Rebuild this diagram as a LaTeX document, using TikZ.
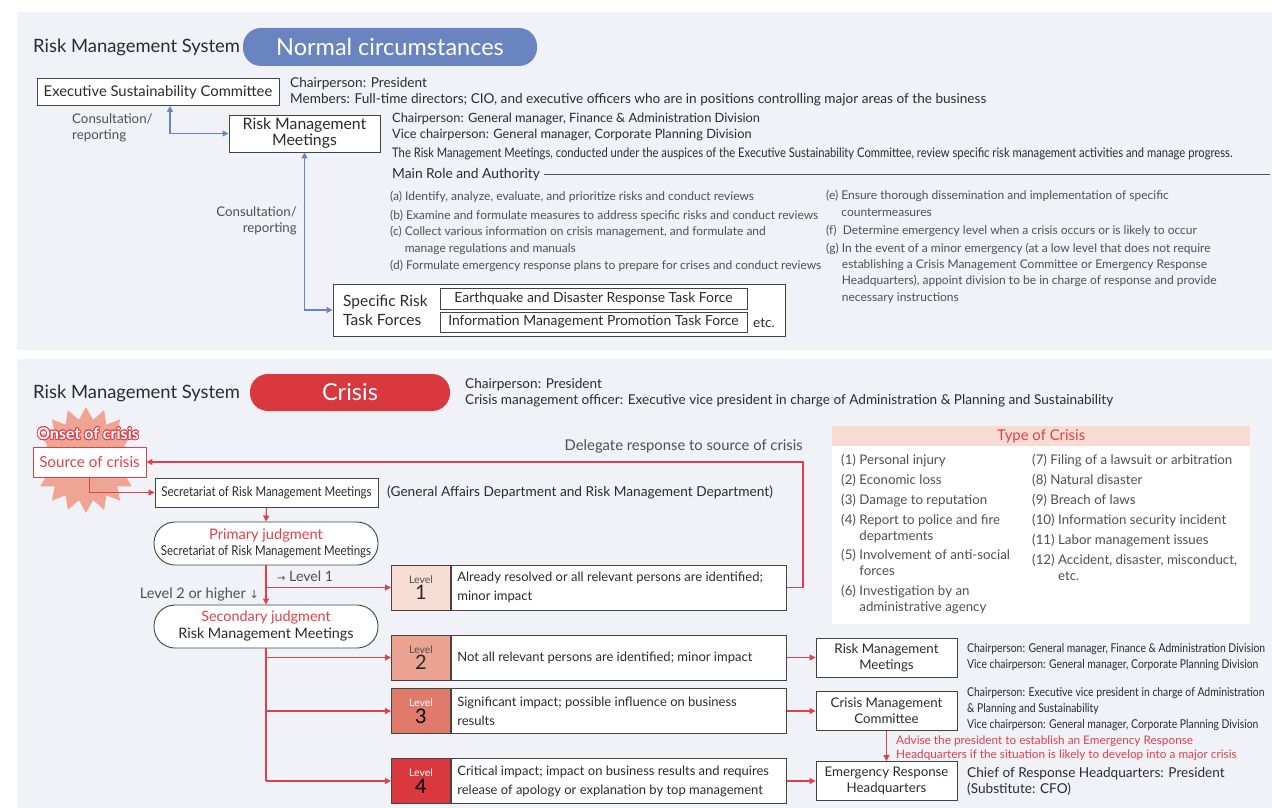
\documentclass[tikz,border=0pt]{standalone}
\usepackage{fontspec}
\setmainfont{Lato}
\newfontfamily\condfont{Lato}[FakeStretch=0.85]
\newfontfamily\symfont{DejaVu Sans}
\usepackage{xcolor}
\usepackage{tikz}
\usetikzlibrary{shapes.geometric,arrows.meta,positioning}
\usepackage{contour}
\contourlength{0.9pt}

\definecolor{panelbg}{HTML}{F1F2F8}
\definecolor{normalblue}{HTML}{6A84BF}
\definecolor{crisisred}{HTML}{D9383E}
\definecolor{linered}{HTML}{E0404A}
\definecolor{ink}{HTML}{2B2B2B}
\definecolor{grey}{HTML}{505050}
\definecolor{boxline}{HTML}{444444}
\definecolor{lvlone}{HTML}{F8DDD5}
\definecolor{lvltwo}{HTML}{EBA392}
\definecolor{lvlthree}{HTML}{E07B6C}
\definecolor{lvlfour}{HTML}{D9383E}
\definecolor{burst}{HTML}{EFA594}
\definecolor{typehead}{HTML}{F8DBD3}

\tikzset{
	box/.style={draw=boxline, fill=white, line width=0.9pt, align=center, inner sep=0pt, text=ink},
	roundbox/.style={box, rounded corners=21pt},
	pill/.style={rounded corners=18pt, text=white, inner sep=0pt, font=\fontsize{23.5}{26}\selectfont},
	head/.style={text=ink, inner sep=0pt, font=\fontsize{18.4}{20}\selectfont},
	txt/.style={text=ink, inner sep=0pt, align=left, font=\fontsize{13.6}{16}\selectfont},
	item/.style={text=grey, inner sep=0pt, align=left, font=\fontsize{12}{16.3}\selectfont},
	note/.style={text=ink, inner sep=0pt, align=left, font=\condfont\fontsize{12.2}{16}\selectfont},
	blueline/.style={draw=normalblue, line width=1.2pt, {Triangle[length=6pt,width=6pt]}-{Triangle[length=6pt,width=6pt]}},
	redline/.style={draw=linered, line width=1.2pt},
	redarrow/.style={redline, -{Triangle[length=6pt,width=6pt]}},
	tag/.style={draw=boxline, line width=0.9pt, minimum width=59pt, minimum height=45pt, inner sep=0pt, align=center},
	desc/.style={draw=boxline, fill=white, line width=0.9pt, minimum height=45pt, text width=323pt, inner xsep=6pt, inner ysep=0pt, align=flush left, text=ink, font=\fontsize{13}{19}\selectfont}
}

\begin{document}
\begin{tikzpicture}[x=1pt,y=-1pt]
	% Fondo y paneles
	\useasboundingbox (0,0) rectangle (1272,808);
	\fill[white] (0,0) rectangle (1272,808);
	\fill[panelbg] (17,12) rectangle (1272,350);
	\fill[panelbg] (17,359) rectangle (1272,808);

	% Situacion normal
	\node[head, anchor=west] (sysA) at (33,47) {Risk Management System};
	\node[pill, fill=normalblue, minimum width=294pt, minimum height=38pt] (normal) at (390,47) {Normal circumstances};

	\node[box, minimum width=242pt, minimum height=27pt, font=\fontsize{14.8}{17}\selectfont] (esc) at (158,92) {Executive Sustainability Committee};
	\node[txt, anchor=base west] (escinfo) at (290,103) {Chairperson: President\\Members: Full-time directors; CIO, and executive officers who are in positions controlling major areas of the business};
	\node[item, anchor=base west, font=\fontsize{13.3}{16}\selectfont] (consA) at (72,139) {Consultation/\\reporting};

	\node[box, minimum width=151pt, minimum height=37pt, font=\fontsize{15.8}{16}\selectfont] (rmm) at (304.5,133.5) {Risk Management\\Meetings};
	\node[txt, anchor=base west, font=\fontsize{12.8}{16}\selectfont] (rmminfo) at (392,138) {Chairperson: General manager, Finance \& Administration Division\\Vice chairperson: General manager, Corporate Planning Division};
	\node[note, anchor=base west, font=\condfont\fontsize{13.2}{14}\selectfont] (rmmnote) at (392,157) {The Risk Management Meetings, conducted under the auspices of the Executive Sustainability Committee, review specific risk management activities and manage progress.};

	\node[txt, anchor=base west, font=\fontsize{13.8}{16}\selectfont] (mra) at (392,178) {Main Role and Authority};
	\coordinate (mraend) at (1270,174);
	\draw[grey, line width=0.8pt] ([xshift=4pt]mra.east) -- (mra.east -| mraend);

	% Funciones (a)-(g)
	\node[item, anchor=base west] (ra) at (390,200) {(a) Identify, analyze, evaluate, and prioritize risks and conduct reviews};
	\node[item, anchor=base west] (rb) at (390,219) {(b) Examine and formulate measures to address specific risks and conduct reviews};
	\node[item, anchor=base west] (rc) at (390,252) {(c) Collect various information on crisis management, and formulate and\\\phantom{(c) }manage regulations and manuals};
	\node[item, anchor=base west] (rd) at (390,269) {(d) Formulate emergency response plans to prepare for crises and conduct reviews};
	\node[item, anchor=base west] (re) at (826,216) {(e) Ensure thorough dissemination and implementation of specific\\\phantom{(e) }countermeasures};
	\node[item, anchor=base west] (rf) at (826,234) {(f)\ \ Determine emergency level when a crisis occurs or is likely to occur};
	\node[item, anchor=base west] (rg) at (826,301) {(g) In the event of a minor emergency (at a low level that does not require\\\phantom{(g) }establishing a Crisis Management Committee or Emergency Response\\\phantom{(g) }Headquarters), appoint division to be in charge of response and provide\\\phantom{(g) }necessary instructions};

	% Task forces
	\node[box, minimum width=452pt, minimum height=52pt] (srtf) at (559,310) {};
	\node[txt, anchor=west, font=\fontsize{15.5}{19}\selectfont] (srtfl) at (343,310.5) {Specific Risk\\Task Forces};
	\node[box, minimum width=307pt, minimum height=21pt, font=\fontsize{13.9}{15}\selectfont] (tfA) at (593.5,298.5) {Earthquake and Disaster Response Task Force};
	\node[box, minimum width=307pt, minimum height=20pt, font=\fontsize{13.9}{15}\selectfont] (tfB) at (593.5,322) {Information Management Promotion Task Force};
	\node[txt, anchor=west] (etc) at (753,323) {etc.};

	\draw[blueline] ([xshift=12pt]esc.south) |- (rmm.west);
	\draw[blueline] (rmm.south) |- (srtf.west);
	\node[item, anchor=base east, align=right, font=\fontsize{13.3}{16}\selectfont] (consB) at (297,232) {Consultation/\\reporting};

	% Situacion de crisis
	\node[head, anchor=west] (sysB) at (33,393) {Risk Management System};
	\node[pill, fill=crisisred, minimum width=200pt, minimum height=37pt] (crisis) at (350,392.5) {Crisis};
	\node[txt, anchor=base west] (crisinfo) at (465,404) {Chairperson: President\\Crisis management officer: Executive vice president in charge of Administration \& Planning and Sustainability};

	\node[star, star points=18, star point ratio=1.3, fill=burst, minimum size=106pt, inner sep=0pt] (burstA) at (86,460) {};
	\node[inner sep=0pt, font=\bfseries\fontsize{16}{18}\selectfont] (onset) at (88,434) {\contour{linered}{\textcolor{white}{Onset of crisis}}};
	\node[box, draw=linered, text=linered, minimum width=113pt, minimum height=30pt, font=\fontsize{15.2}{17}\selectfont] (src) at (89.5,462) {Source of crisis};

	\node[box, minimum width=223pt, minimum height=29pt, font=\condfont\fontsize{13.5}{16}\selectfont] (secr) at (266.5,492.5) {Secretariat of Risk Management Meetings};
	\node[txt, anchor=west, font=\fontsize{13.7}{16}\selectfont] (secrinfo) at (387,492.5) {(General Affairs Department and Risk Management Department)};

	\node[roundbox, minimum width=224pt, minimum height=43pt, font=\fontsize{14.6}{16}\selectfont] (prim) at (266,543.5) {\textcolor{linered}{Primary judgment}\\{\condfont\fontsize{13.5}{16}\selectfont Secretariat of Risk Management Meetings}};
	\node[roundbox, minimum width=224pt, minimum height=43pt, font=\fontsize{14.4}{17}\selectfont] (sec) at (266,626.5) {\textcolor{linered}{Secondary judgment}\\Risk Management Meetings};
	\node[txt, anchor=west, text=grey, font=\fontsize{14.2}{16}\selectfont] (toone) at (277,576) {{\symfont\fontsize{10}{10}\selectfont →} Level 1};
	\node[txt, anchor=east, text=grey, font=\fontsize{14.5}{16}\selectfont] (totwo) at (259,594) {Level 2 or higher {\symfont\fontsize{11}{10}\selectfont ↓}};

	% Niveles
	\node[tag, fill=lvlone, anchor=west] (tagA) at (391,587.5) {\fontsize{10.5}{12}\selectfont\color{grey}Level\\[1pt]\fontsize{20}{21}\selectfont\color{ink}1};
	\node[tag, fill=lvltwo, anchor=west] (tagB) at (391,657.5) {\fontsize{10.5}{12}\selectfont\color{grey}Level\\[1pt]\fontsize{20}{21}\selectfont\color{ink}2};
	\node[tag, fill=lvlthree, anchor=west] (tagC) at (391,711) {\fontsize{10.5}{12}\selectfont\color{white}Level\\[1pt]\fontsize{20}{21}\selectfont 3};
	\node[tag, fill=lvlfour, anchor=west] (tagD) at (391,781) {\fontsize{10.5}{12}\selectfont\color{white}Level\\[1pt]\fontsize{20}{21}\selectfont 4};
	\node[desc, anchor=west] (lvA) at (tagA.east) {Already resolved or all relevant persons are identified;\\minor impact};
	\node[desc, anchor=west] (lvB) at (tagB.east) {Not all relevant persons are identified; minor impact};
	\node[desc, anchor=west] (lvC) at (tagC.east) {Significant impact; possible influence on business\\results};
	\node[desc, anchor=west] (lvD) at (tagD.east) {Critical impact; impact on business results and requires\\release of apology or explanation by top management};

	\draw[redarrow] (src.south) |- (secr.west);
	\draw[redarrow] (secr.south) -- (prim.north);
	\draw[redarrow] (prim.south) -- (sec.north);
	\draw[redarrow] (prim.south |- tagA.west) -- (tagA.west);
	\draw[redline] (sec.south) -- (sec.south |- tagD.west);
	\foreach \l in {B,C,D}
		{
			\draw[redarrow] (sec.south |- tag\l.west) -- (tag\l.west);
		}

	% Delegar
	\coordinate (dturn) at (803,0);
	\draw[redarrow] (lvA.east) -| (dturn |- src.east) -- (src.east);
	\node[txt, anchor=east, font=\fontsize{14.8}{16}\selectfont, text=grey] (deleg) at (803,446) {Delegate response to source of crisis};

	% Organos de respuesta
	\node[box, minimum width=141pt, minimum height=39pt, font=\fontsize{13.3}{16}\selectfont] (rmmB) at (886.5,657.5) {Risk Management\\Meetings};
	\node[box, minimum width=141pt, minimum height=39pt, font=\fontsize{13.3}{16}\selectfont] (cmc) at (886.5,711) {Crisis Management\\Committee};
	\node[box, minimum width=141pt, minimum height=39pt, font=\fontsize{13.3}{16}\selectfont] (erh) at (886.5,781) {Emergency Response\\Headquarters};
	\draw[redarrow] (lvB.east) -- (rmmB.west);
	\draw[redarrow] (lvC.east) -- (cmc.west);
	\draw[redarrow] (lvD.east) -- (erh.west);
	\draw[redarrow] (cmc.south) -- (erh.north);

	\node[note, anchor=base west] (rmmBinfo) at (967,668) {Chairperson: General manager, Finance \& Administration Division\\Vice chairperson: General manager, Corporate Planning Division};
	\node[note, anchor=base west] (cmcinfo) at (967,728) {Chairperson: Executive vice president in charge of Administration\\\& Planning and Sustainability\\Vice chairperson: General manager, Corporate Planning Division};
	\node[txt, anchor=base west, font=\fontsize{13.6}{16}\selectfont] (erhinfo) at (967,793) {Chief of Response Headquarters: President\\(Substitute: CFO)};
	\node[txt, anchor=base west, text=linered, font=\fontsize{11.8}{14}\selectfont] (advise) at (896,758) {Advise the president to establish an Emergency Response\\Headquarters if the situation is likely to develop into a major crisis};

	% Tipos de crisis
	\node[fill=white, minimum width=418pt, minimum height=198pt, anchor=north west, inner sep=0pt] (types) at (832,426) {};
	\node[fill=typehead, minimum width=418pt, minimum height=20pt, anchor=north west, inner sep=0pt, text=linered, font=\fontsize{14.9}{16}\selectfont] (typehd) at (832,426) {Type of Crisis};
	\foreach \n/\y/\t in {1/464/{(1) Personal injury}, 2/484/{(2) Economic loss}, 3/504/{(3) Damage to reputation},
			4/540/{(4) Report to police and fire\\\phantom{(4) }departments}, 5/575/{(5) Involvement of anti-social\\\phantom{(5) }forces},
			6/611/{(6) Investigation by an\\\phantom{(6) }administrative agency}}
		{
			\node[item, anchor=base west, font=\fontsize{13.3}{16}\selectfont] (ty\n) at (841,\y) {\t};
		}
	\foreach \n/\y/\t in {7/464/{(7) Filing of a lawsuit or arbitration}, 8/484/{(8) Natural disaster}, 9/504/{(9) Breach of laws},
			10/524/{(10) Information security incident}, 11/544/{(11) Labor management issues},
			12/580/{(12) Accident, disaster, misconduct,\\\phantom{(12) }etc.}}
		{
			\node[item, anchor=base west, font=\fontsize{13.3}{16}\selectfont] (ty\n) at (1032,\y) {\t};
		}

\end{tikzpicture}
\end{document}
